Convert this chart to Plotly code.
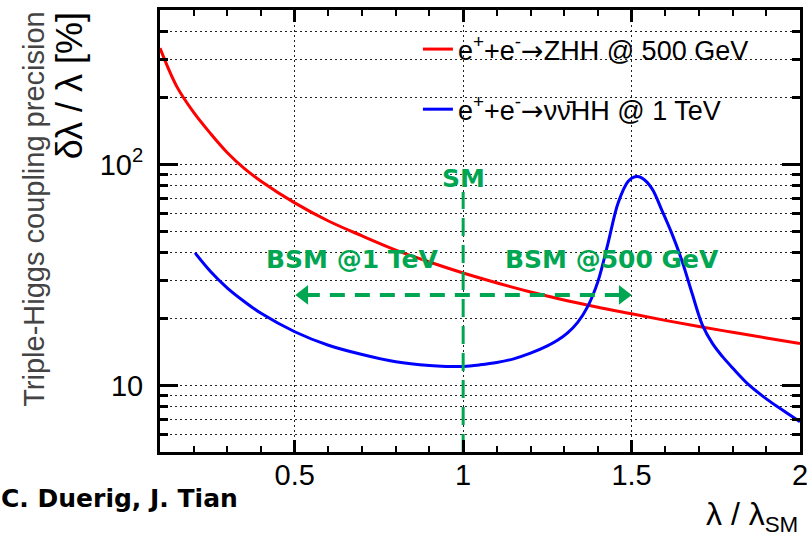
import plotly.graph_objects as go

# ---- data ----
zhh_lambda = [0.10, 0.15, 0.20, 0.25, 0.30, 0.35, 0.40, 0.50, 0.60, 0.70, 0.80, 0.90, 1.00,
              1.20, 1.40, 1.50, 1.60, 1.70, 1.80, 1.90, 2.00]
zhh_prec = [336, 225, 172, 138, 113, 96, 84, 67, 55.5, 47.5, 41, 36.2, 32.3,
            26.5, 22.6, 21.1, 19.7, 18.5, 17.4, 16.4, 15.5]

nnhh_lambda = [0.204, 0.25, 0.30, 0.35, 0.40, 0.50, 0.60, 0.70, 0.80, 0.90, 0.95, 1.00,
               1.05, 1.10, 1.15, 1.20, 1.25, 1.28, 1.31, 1.34, 1.37, 1.40, 1.43, 1.46, 1.49,
               1.51, 1.53, 1.56, 1.59, 1.62, 1.65, 1.68, 1.71, 1.74, 1.77, 1.80, 1.85,
               1.90, 1.95, 2.00]
nnhh_prec = [39.8, 32.8, 27.6, 24.0, 21.2, 17.5, 15.2, 13.8, 12.8, 12.3, 12.2, 12.2,
             12.4, 12.7, 13.2, 14.0, 15.1, 16.0, 17.3, 19.3, 22.8, 29.5, 44, 67, 84,
             88, 87, 78, 62, 48.5, 36.5, 26, 18.8, 15.5, 13.5, 12.0, 10.0,
             8.7, 7.7, 6.85]

sm_line_x = [1.0, 1.0]
sm_line_y = [5, 75]
arrow_line_x = [0.53, 1.47]
arrow_line_y = [25.7, 25.7]
arrow_left_head = [0.527]
arrow_right_head = [1.475]
arrow_head_y = [25.7]

x_tickvals = [0.5, 1, 1.5, 2]
x_ticktext = ["0.5", "1", "1.5", "2"]
y_tickvals = [10, 100]
y_ticktext = ["10", "10<sup>2</sup>"]
y_minor = [6, 7, 8, 9, 20, 30, 40, 50, 60, 70, 80, 90, 200, 300, 400]

GREEN = "#00A651"
SANS = "Liberation Sans"
ARROW = "<span style='font-family:DejaVu Sans'>→</span>"

fig = go.Figure()
fig.add_trace(go.Scatter(
    x=zhh_lambda, y=zhh_prec, mode="lines", line=dict(color="#FF0000", width=3, shape="spline"),
    name="e<sup>+</sup>+e<sup>-</sup>" + ARROW + "ZHH @ 500 GeV", legendgroup="a"))
fig.add_trace(go.Scatter(
    x=nnhh_lambda, y=nnhh_prec, mode="lines", line=dict(color="#0000FF", width=3, shape="spline"),
    name="e<sup>+</sup>+e<sup>-</sup>" + ARROW + "ν\u03bd\u0304HH @ 1 TeV", legendgroup="b"))

fig.add_trace(go.Scatter(x=sm_line_x, y=sm_line_y, mode="lines", showlegend=False,
                         line=dict(color=GREEN, width=3, dash="18px,9px")))
fig.add_trace(go.Scatter(x=arrow_line_x, y=arrow_line_y, mode="lines", showlegend=False,
                         line=dict(color=GREEN, width=4, dash="15px,10px")))
fig.add_trace(go.Scatter(x=arrow_left_head, y=arrow_head_y, mode="markers", showlegend=False,
                         marker=dict(symbol="triangle-left", size=17, color=GREEN)))
fig.add_trace(go.Scatter(x=arrow_right_head, y=arrow_head_y, mode="markers", showlegend=False,
                         marker=dict(symbol="triangle-right", size=17, color=GREEN)))

green_font = dict(family="DejaVu Sans", size=25, color=GREEN, weight="bold")
fig.add_annotation(x=1.0, y=1.937, xref="x", yref="y", text="SM", showarrow=False,
                   font=green_font)
fig.add_annotation(x=0.67, y=1.572, xref="x", yref="y", text="BSM @1 TeV", showarrow=False,
                   font=green_font)
fig.add_annotation(x=1.441, y=1.572, xref="x", yref="y", text="BSM @500 GeV", showarrow=False,
                   font=green_font)

# axis titles (ROOT style, aligned to the ends)
fig.add_annotation(x=-0.141, y=1.0, xref="paper", yref="paper", xanchor="center", yanchor="top",
                   text="δλ / λ [%]", textangle=-90, showarrow=False,
                   font=dict(family=SANS, size=36, color="black"))
fig.add_annotation(x=-0.198, y=1.0, xref="paper", yref="paper", xanchor="center", yanchor="top",
                   text="Triple-Higgs coupling precision", textangle=-90, showarrow=False,
                   font=dict(family=SANS, size=29, color="#444444"))
fig.add_annotation(x=1.0, y=-0.196, xref="paper", yref="paper", xanchor="right", yanchor="bottom",
                   text="λ / λ<sub>SM</sub>", showarrow=False,
                   font=dict(family=SANS, size=32, color="black"))
fig.add_annotation(x=0.125, y=-0.106, xref="paper", yref="paper", xanchor="right", yanchor="middle",
                   text="C. Duerig, J. Tian", showarrow=False,
                   font=dict(family="DejaVu Sans", size=25, color="black", weight="bold"))

grid_style = dict(gridcolor="#222222", gridwidth=1, griddash="2px,3px")

fig.update_layout(
    width=807, height=540,
    margin=dict(l=160, r=7, t=10, b=88),
    paper_bgcolor="white", plot_bgcolor="white",
    font=dict(family=SANS, color="black"),
    showlegend=True,
    legend=dict(x=0.403, y=0.966, xanchor="left", yanchor="top", bgcolor="rgba(0,0,0,0)",
                font=dict(family=SANS, size=27, color="black"), traceorder="grouped",
                tracegroupgap=22),
    xaxis=dict(range=[0.1, 2.0], tickmode="array", tickvals=x_tickvals, ticktext=x_ticktext,
               ticks="inside", ticklen=12, tickwidth=3, tickcolor="black", automargin=False,
               ticklabeloverflow="allow",
               showline=True, linewidth=3, linecolor="black", mirror="allticks",
               showgrid=True, zeroline=False, tickfont=dict(family=SANS, size=29),
               ticklabelstandoff=-5,
               minor=dict(dtick=0.1, tick0=0, ticks="inside", ticklen=6, tickwidth=2,
                          tickcolor="black", showgrid=False),
               **grid_style),
    yaxis=dict(type="log", range=[0.69897, 2.69897], tickmode="array", tickvals=y_tickvals,
               ticktext=y_ticktext, ticks="inside", ticklen=18, tickwidth=3, tickcolor="black",
               automargin=False, ticklabeloverflow="allow",
               showline=True, linewidth=3, linecolor="black", mirror="allticks",
               showgrid=True, zeroline=False, tickfont=dict(family=SANS, size=29),
               ticklabelstandoff=8,
               minor=dict(tickmode="array", tickvals=y_minor, ticks="inside", ticklen=8,
                          tickwidth=3, tickcolor="black", showgrid=True, **grid_style),
               **grid_style),
)

fig.write_html("out.html")
